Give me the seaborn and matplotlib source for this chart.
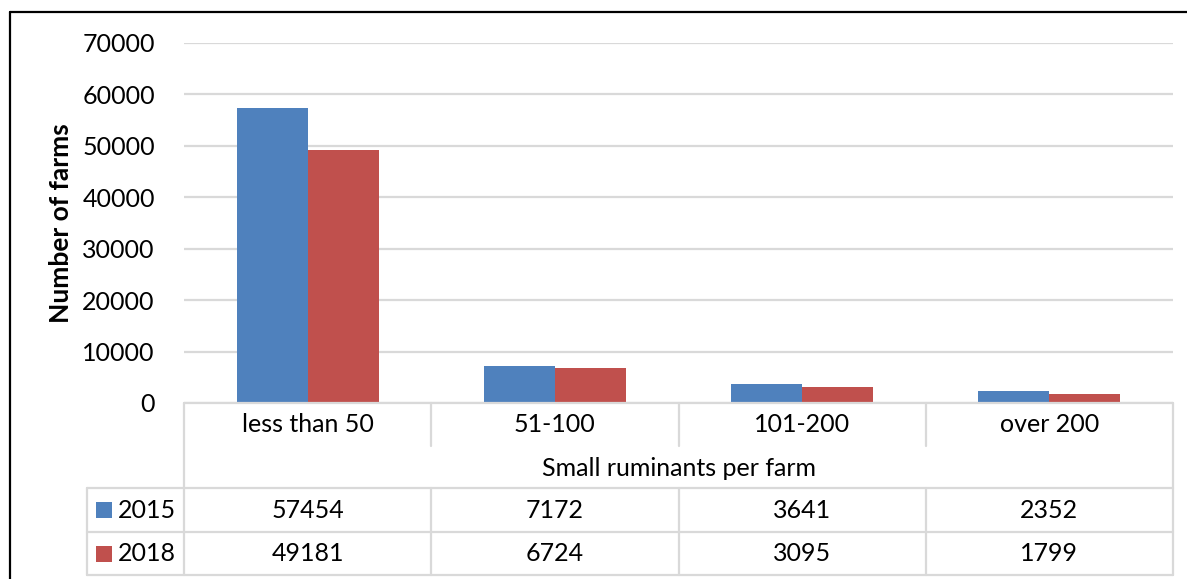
import matplotlib
matplotlib.use("Agg")
import matplotlib.pyplot as plt
import matplotlib.transforms as mtransforms
from matplotlib.lines import Line2D
from matplotlib.patches import Rectangle
import pandas as pd
import seaborn as sns

# ---- data ----
categories = ["less than 50", "51-100", "101-200", "over 200"]
years = ["2015", "2018"]
farms_2015 = [57454, 7172, 3641, 2352]
farms_2018 = [49181, 6724, 3095, 1799]
y_ticks = [0, 10000, 20000, 30000, 40000, 50000, 60000, 70000]

colors = {"2015": "#4F81BD", "2018": "#C0504D"}
series = {"2015": farms_2015, "2018": farms_2018}

df = pd.DataFrame({
    "group": categories * len(years),
    "year": [y for y in years for _ in categories],
    "farms": farms_2015 + farms_2018,
})

sns.set_theme(style="white")
plt.rcParams["font.family"] = ["Lato", "DejaVu Sans"]

W, H = 1187, 579
FS = 18
GRID = "#d9d9d9"

fig = plt.figure(figsize=(W / 100, H / 100), dpi=100)


def fx(px):
    return px / W


def fy(py):
    return 1 - py / H


left, right, top, bottom = 184, 1173, 43, 403
ax = fig.add_axes([fx(left), fy(bottom), fx(right) - fx(left), fy(top) - fy(bottom)])

sns.barplot(data=df, x="group", y="farms", hue="year", order=categories,
            hue_order=years, palette=colors, width=0.575, saturation=1,
            linewidth=0, legend=False, ax=ax)

ax.set_xlim(-0.5, len(categories) - 0.5)
ax.set_ylim(0, 70000)
ax.set_yticks(y_ticks)
ax.set_yticklabels([str(v) for v in y_ticks], fontsize=FS, color="black")
ax.tick_params(axis="y", length=0, pad=21)
ax.set_xticks([])
ax.set_xlabel("")
ax.set_ylabel("")
ax.yaxis.grid(True, color=GRID, linewidth=1.6)
ax.set_axisbelow(True)
for s in ax.spines.values():
    s.set_visible(False)

fig.text(fx(61), fy(223), "Number of farms", rotation=90, ha="center",
         va="center", fontsize=FS + 1, fontweight="bold", color="black")

# ---- data table under the axis ----
mix = mtransforms.blended_transform_factory(ax.transData, fig.transFigure)


def hline(y, x0, x1):
    fig.add_artist(Line2D([fx(x0), fx(x1)], [fy(y), fy(y)], color=GRID,
                          linewidth=1.6, transform=fig.transFigure))


def vline(x, y0, y1, xdata=None):
    if xdata is not None:
        fig.add_artist(Line2D([xdata, xdata], [fy(y0), fy(y1)], color=GRID,
                              linewidth=1.6, transform=mix))
    else:
        fig.add_artist(Line2D([fx(x), fx(x)], [fy(y0), fy(y1)], color=GRID,
                              linewidth=1.6, transform=fig.transFigure))


row_lines = [488, 532, 575]
hline(bottom, left, right)
for y in row_lines:
    hline(y, 87, right)
vline(left, bottom, 575)
vline(right, bottom, 575)
vline(87, 488, 575)
for i in range(len(categories) - 1):
    vline(None, bottom, 446, xdata=i + 0.5)
    vline(None, 488, 575, xdata=i + 0.5)

for i, c in enumerate(categories):
    fig.text(i, fy(425), c, transform=mix, ha="center", va="center",
             fontsize=FS, color="black")

fig.text((len(categories) - 1) / 2, fy(468), "Small ruminants per farm",
         transform=mix, ha="center", va="center", fontsize=FS, color="black")

row_centres = [510, 553.5]
for yr, yc in zip(years, row_centres):
    fig.add_artist(Rectangle((fx(96), fy(yc + 8)), fx(16), 16 / H,
                             facecolor=colors[yr], edgecolor="none",
                             transform=fig.transFigure))
    fig.text(fx(118), fy(yc), yr, ha="left", va="center", fontsize=FS,
             color="black")
    for i, v in enumerate(series[yr]):
        fig.text(i, fy(yc), str(v), transform=mix, ha="center", va="center",
                 fontsize=FS, color="black")

# outer frame (left and top edges)
fig.add_artist(Line2D([fx(10), fx(10)], [fy(12), 0], color="black",
                      linewidth=1.6, transform=fig.transFigure))
fig.add_artist(Line2D([fx(10), 1], [fy(12), fy(12)], color="black",
                      linewidth=1.6, transform=fig.transFigure))

fig.savefig("out.png", dpi=100, facecolor="white")
